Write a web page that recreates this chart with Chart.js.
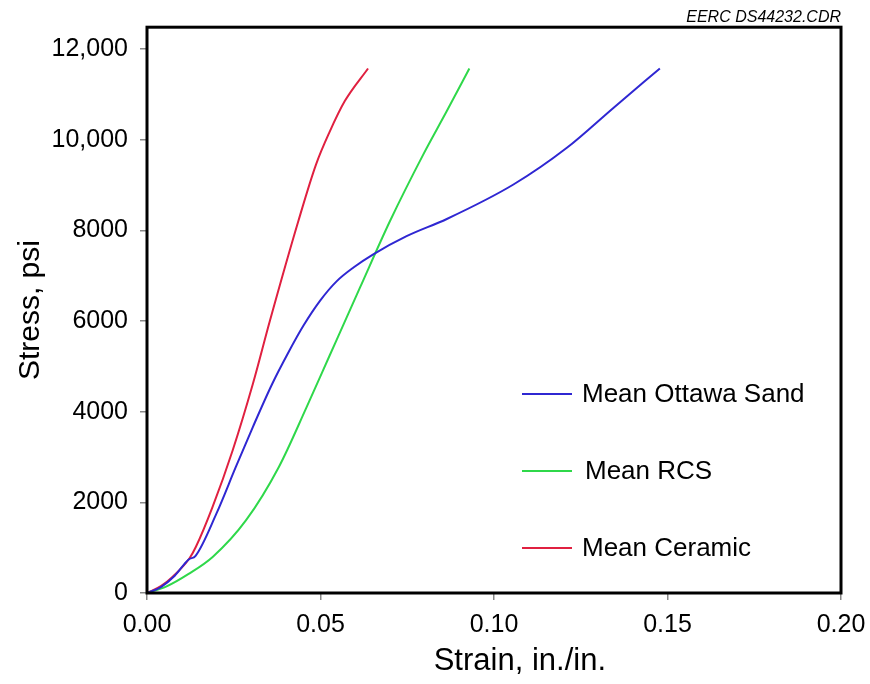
<!DOCTYPE html>
<html lang="en">
<head>
  <meta charset="UTF-8">
  <title>Stress vs Strain</title>
  <script src="https://cdn.jsdelivr.net/npm/chart.js"></script>
  <style>
    body { margin: 0; background: #fff; }
    #wrap { width: 870px; height: 684px; }
  </style>
</head>
<body>
  <div id="wrap"><canvas id="chart" width="870" height="684"></canvas></div>

  <script>
    // strain (in./in.) and stress (psi)
    const ottawaStrain = [0, 0.004, 0.008, 0.012, 0.014, 0.020, 0.0256, 0.0305, 0.036, 0.0407, 0.0451, 0.0499, 0.0547, 0.0595, 0.0652, 0.0748, 0.0864, 0.1056, 0.121, 0.1344, 0.1478];
    const ottawaStress = [0, 130, 380, 740, 820, 1750, 2780, 3660, 4600, 5300, 5900, 6450, 6880, 7180, 7470, 7870, 8250, 9010, 9820, 10700, 11570];

    const rcsStrain = [0, 0.0055, 0.012, 0.019, 0.0285, 0.038, 0.046, 0.0527, 0.0614, 0.070, 0.0796, 0.0864, 0.0929];
    const rcsStress = [0, 140, 420, 800, 1600, 2780, 4100, 5250, 6740, 8200, 9670, 10630, 11570];

    const ceramicStrain = [0, 0.004, 0.0074, 0.0122, 0.0141, 0.0189, 0.0247, 0.0305, 0.0354, 0.0436, 0.0487, 0.0525, 0.057, 0.0637];
    const ceramicStress = [0, 150, 360, 760, 1020, 1900, 3150, 4610, 6000, 8200, 9450, 10150, 10850, 11570];

    const seriesNames = ['Mean Ottawa Sand', 'Mean RCS', 'Mean Ceramic'];
    const seriesColors = ['#2f27d2', '#2fd84a', '#e02040'];

    const xTicks = [0, 0.05, 0.10, 0.15, 0.20];
    const xTickLabels = ['0.00', '0.05', '0.10', '0.15', '0.20'];
    const yTicks = [0, 2000, 4000, 6000, 8000, 10000, 12000];
    const yTickLabels = ['0', '2000', '4000', '6000', '8000', '10,000', '12,000'];

    const FONT = '"Liberation Sans", Arial, sans-serif';

    function pts(xs, ys) { return xs.map((x, i) => ({ x: x, y: ys[i] })); }

    const frame = {
      id: 'frame',
      afterDraw(chart) {
        const { ctx, chartArea: a } = chart;
        ctx.save();
        ctx.strokeStyle = '#000';
        ctx.lineWidth = 3;
        ctx.strokeRect(a.left, a.top, a.right - a.left, a.bottom - a.top);
        ctx.restore();
      }
    };

    // legend sits inside the plot, lower right, one item per row
    const inLegend = {
      id: 'inLegend',
      afterDraw(chart) {
        const { ctx, chartArea: a } = chart;
        const rows = [394, 471, 548];
        ctx.save();
        ctx.font = '26px ' + FONT;
        ctx.textBaseline = 'middle';
        ctx.fillStyle = '#000';
        seriesNames.forEach((name, i) => {
          const y = rows[i];
          ctx.strokeStyle = seriesColors[i];
          ctx.lineWidth = 2;
          ctx.beginPath();
          ctx.moveTo(a.left + 375, y);
          ctx.lineTo(a.left + 425, y);
          ctx.stroke();
          ctx.fillText(name, a.left + 435 + (i === 1 ? 3 : 0), y + 1);
        });
        ctx.restore();
      }
    };

    const ds = (i, data) => ({
      label: seriesNames[i], data: data,
      borderColor: seriesColors[i], backgroundColor: seriesColors[i],
      borderWidth: 2, pointRadius: 0, fill: false,
      cubicInterpolationMode: 'monotone'
    });

    new Chart(document.getElementById('chart'), {
      type: 'scatter',
      data: {
        datasets: [
          ds(0, pts(ottawaStrain, ottawaStress)),
          ds(1, pts(rcsStrain, rcsStress)),
          ds(2, pts(ceramicStrain, ceramicStress))
        ].map(d => Object.assign(d, { showLine: true }))
      },
      options: {
        responsive: false,
        animation: false,
        layout: { padding: { left: 0, right: 29, top: 0, bottom: 0 } },
        plugins: {
          legend: { display: false },
          tooltip: { enabled: false },
          title: {
            display: true, text: 'EERC DS44232.CDR', align: 'end', color: '#000',
            font: { family: FONT, size: 16, style: 'italic', weight: 'normal' },
            padding: { top: 8, bottom: 0 }
          }
        },
        scales: {
          x: {
            type: 'linear', min: 0, max: 0.2,
            afterBuildTicks: s => { s.ticks = xTicks.map(v => ({ value: v })); },
            afterFit: s => { s.height = 91; s.paddingRight = 0; s.paddingLeft = 0; },
            ticks: {
              color: '#000', padding: 10, maxRotation: 0,
              font: { family: FONT, size: 25 },
              callback: (v, i) => xTickLabels[i]
            },
            grid: { drawOnChartArea: false, drawTicks: true, tickLength: 7, color: '#888', lineWidth: 1.5 },
            border: { display: false },
            title: {
              // leading spaces push the label right of centre, as in the original
              display: true, text: '      Strain, in./in.', color: '#000',
              font: { family: FONT, size: 31 }, padding: { top: 0, bottom: 4 }
            }
          },
          y: {
            type: 'linear', min: 0, max: 12480,
            afterBuildTicks: s => { s.ticks = yTicks.map(v => ({ value: v })); },
            afterFit: s => { s.width = 147; },
            ticks: {
              color: '#000', padding: 12,
              font: { family: FONT, size: 25 },
              callback: (v, i) => yTickLabels[i]
            },
            grid: { drawOnChartArea: false, drawTicks: true, tickLength: 7, color: '#888', lineWidth: 1.5 },
            border: { display: false },
            title: {
              display: true, text: 'Stress, psi', color: '#000',
              font: { family: FONT, size: 30 }, padding: { top: 13, bottom: 0 }
            }
          }
        }
      },
      plugins: [frame, inLegend]
    });
  </script>
</body>
</html>
